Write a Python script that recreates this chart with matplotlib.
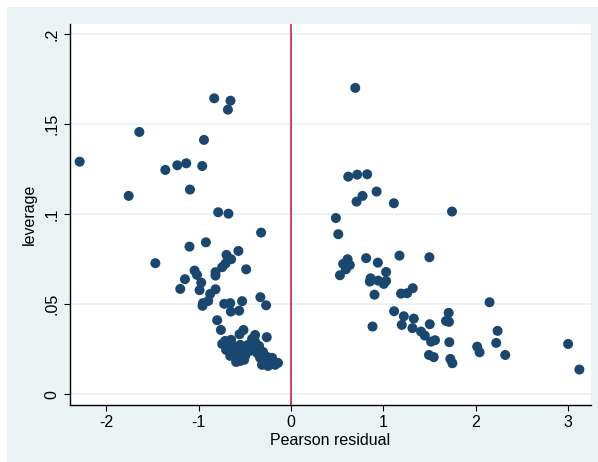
import matplotlib
matplotlib.use("Agg")
import matplotlib.pyplot as plt
from matplotlib.patches import Rectangle

plt.rcParams["font.family"] = ["Liberation Sans", "DejaVu Sans"]

# Pearson residual vs leverage
resid = [
    -2.290, -1.643, -0.832, -0.656, -0.684, -0.943, -1.362, -1.232, -1.135, -0.962,
    -1.095, -1.759, -0.789, -0.678,
    -0.324, -1.470, -1.100, -0.922, -0.570, -0.699, -0.649, -0.746, -0.710, -0.486,
    -1.045, -1.019, -0.818, -0.818, -1.149, -1.200, -0.973, -0.991, -0.818, -0.876,
    -0.897, -0.954, -0.959, -0.724, -0.659, -0.530, -0.332, -0.270, -0.652, -0.562,
    -0.800, -0.760, -0.515, -0.558, -0.389, -0.263,
    -0.714, -0.649, -0.746, -0.670, -0.627, -0.584, -0.551, -0.508, -0.541, -0.551,
    -0.465, -0.605, -0.497, -0.595, -0.659, -0.703, -0.411, -0.389, -0.368, -0.335,
    -0.281, -0.227, -0.173, -0.141, -0.205, -0.259, -0.314, -0.249, -0.346, -0.443,
    -0.303, -0.422,
    0.696, 0.620, 0.717, 0.825, 0.927, 0.775, 0.710, 1.114, 1.744, 0.486,
    0.512, 0.613, 0.565, 0.637, 0.594, 0.530, 0.814, 0.941, 1.175, 1.499,
    1.030, 0.862, 0.854, 0.944, 1.030, 1.005, 0.904, 1.192, 1.257, 1.319,
    1.117, 1.222, 1.330, 1.708, 1.679, 1.711, 2.151, 0.883, 1.200, 1.316,
    1.503, 1.409, 1.449, 1.517, 1.560, 1.715, 2.238, 2.223, 2.017, 2.043,
    2.321, 1.495, 1.546, 1.726, 1.748, 3.002, 3.124,
]
leverage = [
    0.1292, 0.1457, 0.1644, 0.1631, 0.1581, 0.1413, 0.1246, 0.1272, 0.1283, 0.1268,
    0.1137, 0.1102, 0.1011, 0.1003,
    0.0898, 0.0728, 0.0820, 0.0844, 0.0796, 0.0774, 0.0750, 0.0706, 0.0726, 0.0694,
    0.0687, 0.0663, 0.0678, 0.0659, 0.0639, 0.0585, 0.0620, 0.0578, 0.0583, 0.0557,
    0.0518, 0.0506, 0.0491, 0.0502, 0.0506, 0.0517, 0.0539, 0.0494, 0.0459, 0.0464,
    0.0411, 0.0357, 0.0357, 0.0333, 0.0329, 0.0317,
    0.0296, 0.0302, 0.0279, 0.0257, 0.0235, 0.0207, 0.0185, 0.0191, 0.0246, 0.0274,
    0.0274, 0.0263, 0.0213, 0.0179, 0.0213, 0.0246, 0.0257, 0.0291, 0.0229, 0.0202,
    0.0179, 0.0174, 0.0163, 0.0174, 0.0202, 0.0207, 0.0163, 0.0157, 0.0268, 0.0241,
    0.0235, 0.0307,
    0.1702, 0.1209, 0.1220, 0.1222, 0.1126, 0.1102, 0.1070, 0.1061, 0.1015, 0.0979,
    0.0889, 0.0750, 0.0724, 0.0718, 0.0694, 0.0661, 0.0756, 0.0731, 0.0770, 0.0761,
    0.0679, 0.0644, 0.0626, 0.0631, 0.0629, 0.0613, 0.0553, 0.0559, 0.0561, 0.0589,
    0.0461, 0.0433, 0.0420, 0.0452, 0.0407, 0.0402, 0.0511, 0.0376, 0.0385, 0.0367,
    0.0389, 0.0348, 0.0326, 0.0292, 0.0300, 0.0289, 0.0352, 0.0285, 0.0264, 0.0233,
    0.0218, 0.0218, 0.0206, 0.0196, 0.0172, 0.0279, 0.0137,
]

xticks = [-2, -1, 0, 1, 2, 3]
yticks = [0, 0.05, 0.1, 0.15, 0.2]
ylabels = ["0", ".05", ".1", ".15", ".2"]

BG = "#eaf2f3"
NAVY = "#1a476f"

fig = plt.figure(figsize=(5.98, 4.62), dpi=100, facecolor="white")
fig.patches.append(Rectangle((7 / 598, 0), 1, 1 - 7 / 462, transform=fig.transFigure,
                             facecolor=BG, edgecolor="none", zorder=-10))

ax = fig.add_axes([69.5 / 598, 1 - 405 / 462, (591 - 69.5) / 598, (405 - 24) / 462])
ax.set_zorder(1)
ax.set_facecolor("white")

for yt in yticks:
    ax.axhline(yt, color=BG, lw=1.3, zorder=1)

ax.axvline(0, color="#d5466d", lw=1.5, zorder=2)
ax.scatter(resid, leverage, s=52, color=NAVY, edgecolors="none", zorder=3)

ax.set_xlim(-2.40, 3.25)
ax.set_ylim(-0.0060, 0.2057)
ax.set_xticks(xticks)
ax.set_xticklabels([str(t) for t in xticks])
ax.set_yticks(yticks)
ax.set_yticklabels(ylabels, rotation=90, va="center")

for side in ["top", "right"]:
    ax.spines[side].set_visible(False)
for side in ["left", "bottom"]:
    ax.spines[side].set_linewidth(1.0)
    ax.spines[side].set_color("black")

ax.tick_params(axis="both", length=4.5, width=0.8, colors="black", labelsize=11.5, pad=3)
ax.set_xlabel("Pearson residual", fontsize=11.5, labelpad=2)
ax.set_ylabel("leverage", fontsize=11.5, labelpad=5)

fig.savefig("out.png", dpi=100, facecolor=fig.get_facecolor())
